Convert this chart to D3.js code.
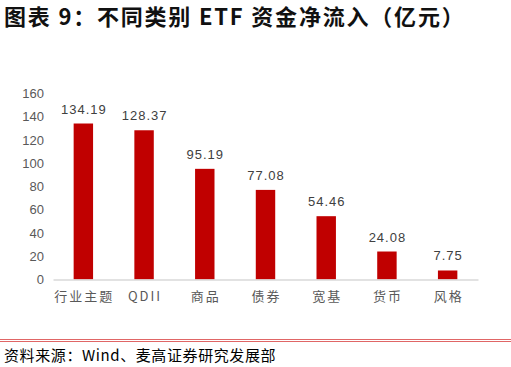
<!DOCTYPE html>
<html><head><meta charset="utf-8">
<script src="https://cdn.jsdelivr.net/npm/d3@7"></script>
<style>body{margin:0;background:#fff}svg{display:block}</style>
</head><body>
<svg id="c" width="511" height="367"></svg>
<script>
const categories = ["行业主题","QDII","商品","债券","宽基","货币","风格"];
const values = [134.19,128.37,95.19,77.08,54.46,24.08,7.75];
const yTicks = [0,20,40,60,80,100,120,140,160];
const title = "图表 9：不同类别 ETF 资金净流入（亿元）";
const source = "资料来源：Wind、麦高证券研究发展部";

const svg = d3.select("#c");
const cjk = "'Noto Sans CJK SC','Noto Sans',sans-serif";
const num = "'Liberation Sans',Arial,sans-serif";

svg.append("text").attr("x",4).attr("y",25).text(title)
  .attr("font-family",cjk).attr("font-weight","bold").attr("font-size",22)
  .attr("letter-spacing",1.8).attr("fill","#111");

const x = d3.scaleBand().domain(categories).range([53,478]).paddingInner(0.68).paddingOuter(0.34);
const y = d3.scaleLinear().domain([0,160]).range([279.5,93.5]);

const ya = svg.append("g").attr("transform","translate(44,0)")
  .call(d3.axisLeft(y).tickValues(yTicks).tickSize(0).tickPadding(0));
ya.select(".domain").remove();
ya.selectAll("text").attr("font-family",num).attr("font-size",13).attr("fill","#595959");

svg.selectAll("rect.bar").data(values).join("rect").attr("class","bar")
  .attr("x",(d,i)=>x(categories[i])).attr("width",x.bandwidth())
  .attr("y",d=>y(d)).attr("height",d=>y(0)-y(d)).attr("fill","#c00000");

svg.selectAll("text.val").data(values).join("text").attr("class","val")
  .attr("x",(d,i)=>x(categories[i])+x.bandwidth()/2+0.5).attr("y",d=>y(d)-10)
  .attr("text-anchor","middle").text(d=>d.toFixed(2))
  .attr("letter-spacing",1)
  .attr("font-family",num).attr("font-size",13).attr("fill","#404040");

const xa = svg.append("g").attr("transform",`translate(0,${y(0)})`)
  .call(d3.axisBottom(x).tickSize(0).tickPadding(12));
xa.select(".domain").attr("stroke","#d9d9d9").attr("stroke-width",1.5);
xa.selectAll("text").attr("font-family",cjk).attr("font-size",13)
  .attr("letter-spacing",2).attr("dx",1).attr("fill","#595959");

svg.append("line").attr("x1",0).attr("x2",511).attr("y1",339.5).attr("y2",339.5).attr("stroke","#e06666").attr("stroke-width",1);
svg.append("line").attr("x1",0).attr("x2",511).attr("y1",341.5).attr("y2",341.5).attr("stroke","#e06666").attr("stroke-width",1);

svg.append("text").attr("x",4).attr("y",361).text(source)
  .attr("font-family",cjk).attr("font-size",15).attr("letter-spacing",0.6).attr("fill","#000");
</script>
</body></html>
